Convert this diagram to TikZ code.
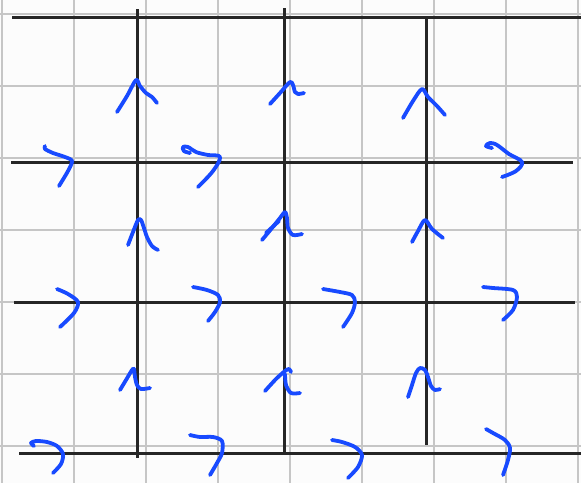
\documentclass[tikz,border=0pt]{standalone}
\usetikzlibrary{calc}
\definecolor{inkblue}{RGB}{24,74,255}
\definecolor{gridgray}{RGB}{198,198,198}
\definecolor{darkline}{RGB}{38,38,38}
\definecolor{paper}{RGB}{252,252,252}
\tikzset{
  faint/.style={draw=gridgray, line width=1.8pt},
  bold/.style={draw=darkline, line width=3pt},
  ink/.style={draw=inkblue, line width=3.8pt, line cap=round, line join=round},
}
\begin{document}
\begin{tikzpicture}[x=1pt,y=-1pt]
\useasboundingbox (0,0) rectangle (581,483);
\fill[paper] (0,0) rectangle (581,483);
% faint grid
\foreach \x in {2,74,146,218,290,362,434,506,578} \draw[faint] (\x,0) -- (\x,483);
\foreach \y in {14,86,158,230,302,374,446} \draw[faint] (0,\y) -- (581,\y);
% bold lines
\draw[bold] (12,17) -- (581,17);
\draw[bold] (11,162) -- (573,162);
\draw[bold] (14,302) -- (575,302);
\draw[bold] (19,453) -- (581,453);
\draw[bold] (137,9) -- (137,458);
\draw[bold] (284,8) -- (284,453);
\draw[bold] (426,16) -- (426,445);
% row 1 ups
\draw[ink] plot[smooth,tension=0.5] coordinates {(117,112) (127,96) (136,80) (140,86) (146,93) (152,97) (157,103)};
\draw[ink] plot[smooth,tension=0.5] coordinates {(270,104) (280,93) (290,82) (293,85) (295,92) (298,94) (304,93)};
\draw[ink] plot[smooth,tension=0.5] coordinates {(403,118) (413,101) (422,89) (428,97) (437,106) (445,115)};
% row 1 hooks
\draw[ink] plot[smooth,tension=0.5] coordinates {(45,146) (45,149) (53,153) (65,157) (72,161) (68,171) (59,186)};
\draw[ink] plot[smooth,tension=0.6] coordinates {(190,153) (184,151) (183,147) (188,147) (196,152) (208,155) (220,157) (213,171) (198,187)};
\draw[ink] plot[smooth,tension=0.6] coordinates {(492,148) (486,146) (490,143) (497,145) (509,154) (522,162) (516,171) (502,177)};
% row 2 ups
\draw[ink] plot[smooth,tension=0.5] coordinates {(128,245) (133,232) (138,220) (141,220) (144,228) (147,237) (152,246) (158,250)};
\draw[ink] plot[smooth,tension=0.5] coordinates {(262,240) (272,228) (280,218) (285,212) (287,218) (288,228) (293,235) (302,234)};
\draw[ink] (266,233) -- (279,221);
\draw[ink] plot[smooth,tension=0.5] coordinates {(412,242) (418,231) (425,220) (432,229) (443,238)};
% row 2 hooks
\draw[ink] plot[smooth,tension=0.5] coordinates {(57,289) (68,294) (78,302) (74,313) (60,327)};
\draw[ink] plot[smooth,tension=0.5] coordinates {(193,287) (207,290) (218,295) (220,302) (215,312) (208,321)};
\draw[ink] plot[smooth,tension=0.5] coordinates {(323,289) (340,292) (352,295) (355,302) (352,313) (343,327)};
\draw[ink] plot[smooth,tension=0.5] coordinates {(483,287) (493,288) (513,290) (517,297) (513,310) (503,320)};
% row 3 ups
\draw[ink] plot[smooth,tension=0.5] coordinates {(120,390) (126,380) (132,370) (134,369) (135,377) (137,385) (141,389) (150,388)};
\draw[ink] plot[smooth,tension=0.5] coordinates {(265,391) (276,379) (285,371) (289,369) (291,372)};
\draw[ink] plot[smooth,tension=0.5] coordinates {(285,374) (286,385) (291,393) (300,393)};
\draw[ink] plot[smooth,tension=0.5] coordinates {(408,397) (412,385) (416,373) (420,368) (425,370) (428,377) (431,386) (435,390) (440,389)};
% row 3 hooks
\draw[ink] plot[smooth,tension=0.5] coordinates {(34,446) (31,443) (36,441) (47,442) (57,446) (63,454) (61,464) (53,473)};
\draw[ink] plot[smooth,tension=0.5] coordinates {(190,435) (200,437) (213,437) (222,441) (222,453) (217,463) (210,475)};
\draw[ink] plot[smooth,tension=0.5] coordinates {(332,440) (342,442) (355,447) (362,455) (358,467) (348,478)};
\draw[ink] plot[smooth,tension=0.5] coordinates {(486,429) (493,433) (505,440) (510,448) (508,460) (503,475)};
\end{tikzpicture}
\end{document}
